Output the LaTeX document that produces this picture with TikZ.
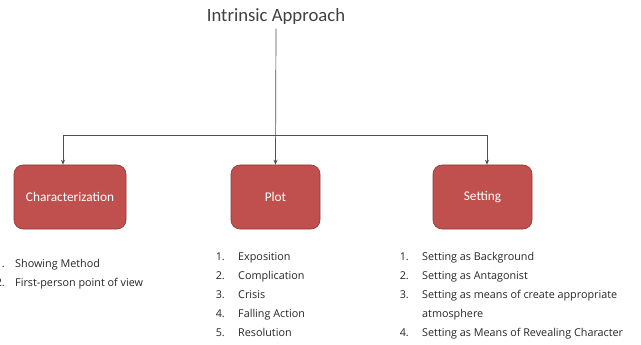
\documentclass[tikz,border=0pt]{standalone}
\usepackage{fontspec}
\setmainfont{Open Sans}
\newfontfamily\boxfont{Carlito}
\usetikzlibrary{arrows.meta}
\definecolor{boxred}{HTML}{C0504D}
\definecolor{boxedge}{HTML}{8C3836}
\definecolor{linegray}{HTML}{505050}
\tikzset{
  topic/.style={draw=boxedge, line width=0.6pt, fill=boxred, rounded corners=9pt,
    minimum height=64pt, text=white, font=\boxfont\fontsize{13.3}{15}\selectfont},
  link/.style={draw=linegray, line width=0.7pt},
  tip/.style={link, -{Stealth[length=5pt,width=4pt]}},
  entry/.style={anchor=base west, inner sep=0pt, text=black!85, font=\fontsize{10.8}{12}\selectfont},
  num/.style={anchor=base east, inner sep=0pt, text=black!85, font=\fontsize{10.8}{12}\selectfont},
}
\begin{document}
\begin{tikzpicture}[x=1pt, y=-1pt]
    \useasboundingbox (0,0) rectangle (641,345);
    \node[text=black!75, font=\boxfont\fontsize{18.7}{21}\selectfont] (title) at (276,17) {Intrinsic Approach};
    \node[topic, minimum width=112pt] (char) at (70,197) {Characterization};
    \node[topic, minimum width=89pt] (plot) at (275.5,197) {Plot};
    \node[topic, minimum width=99pt] (sett) at (482.5,197) {Setting};
    \coordinate (split) at (276,135);
    \coordinate (lefttop) at (63,135);
    \coordinate (righttop) at (487,135);
    \draw[link] (lefttop) -- (righttop);
    \draw[tip] (title.south) -- (plot.north);
    \draw[tip] (lefttop) -- (lefttop |- char.north);
    \draw[tip] (righttop) -- (righttop |- sett.north);
    % left list
    \node[num] (c1n) at (5,267) {1.};
    \node[entry] (c1) at (15,267) {Showing Method};
    \node[num] (c2n) at (5,286) {2.};
    \node[entry] (c2) at (15,286) {First-person point of view};
    % middle list
    \foreach \i/\txt in {1/Exposition, 2/Complication, 3/Crisis, 4/Falling Action, 5/Resolution}{
        \node[num] (p\i n) at (225,241+19*\i) {\i.};
        \node[entry] (p\i) at (238,241+19*\i) {\txt};
    }
    % right list
    \node[num] (s1n) at (409,260) {1.};
    \node[entry] (s1) at (422,260) {Setting as Background};
    \node[num] (s2n) at (409,279) {2.};
    \node[entry] (s2) at (422,279) {Setting as Antagonist};
    \node[num] (s3n) at (409,298) {3.};
    \node[entry] (s3) at (422,298) {Setting as means of create appropriate};
    \node[entry] (s3b) at (422,317) {atmosphere};
    \node[num] (s4n) at (409,336) {4.};
    \node[entry] (s4) at (422,336) {Setting as Means of Revealing Character};
\end{tikzpicture}
\end{document}
